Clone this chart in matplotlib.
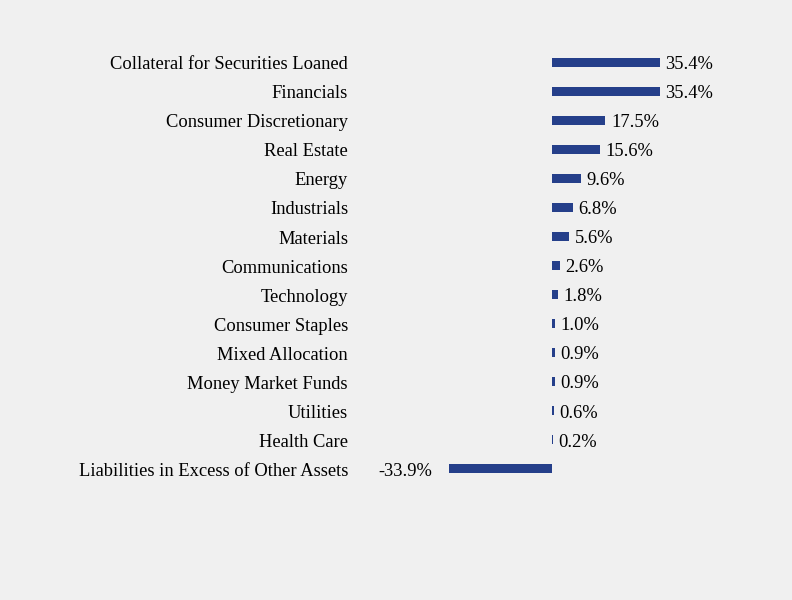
import numpy as np
import matplotlib.pyplot as plt

sectors = ["Collateral for Securities Loaned", "Financials", "Consumer Discretionary",
           "Real Estate", "Energy", "Industrials", "Materials", "Communications",
           "Technology", "Consumer Staples", "Mixed Allocation", "Money Market Funds",
           "Utilities", "Health Care", "Liabilities in Excess of Other Assets"]
weights = [35.4, 35.4, 17.5, 15.6, 9.6, 6.8, 5.6, 2.6, 1.8, 1.0, 0.9, 0.9, 0.6, 0.2, -33.9]

plt.rcParams['font.family'] = ['Liberation Serif', 'DejaVu Serif']
bg = '#f0f0f0'
bar_color = '#253f8a'

fig = plt.figure(figsize=(7.92, 6), dpi=100, facecolor=bg)
ax = fig.add_axes([356 / 792, 1 - 483.5 / 600, 396 / 792, 436 / 600])
ax.set_facecolor(bg)

y = np.arange(len(sectors))
ax.barh(y, weights, height=0.31, color=bar_color)

# value labels next to each bar
for yi, w in zip(y, weights):
    if w >= 0:
        ax.text(w + 1.8, yi + 0.075, f"{w:.1f}%", va='center', ha='left', fontsize=13.35)
    else:
        ax.text(w - 5.3, yi + 0.075, f"{w:.1f}%", va='center', ha='right', fontsize=13.35)

ax.set_xlim(-64.3, 65.6)
ax.set_ylim(len(sectors) - 0.5, -0.5)
ax.set_yticks(y + 0.02)
ax.set_yticklabels(sectors, fontsize=13.35)
ax.tick_params(axis='y', length=0, pad=5.8)
ax.set_xticks([])
for s in ax.spines.values():
    s.set_visible(False)

fig.savefig('out.png', dpi=100, facecolor=bg)
